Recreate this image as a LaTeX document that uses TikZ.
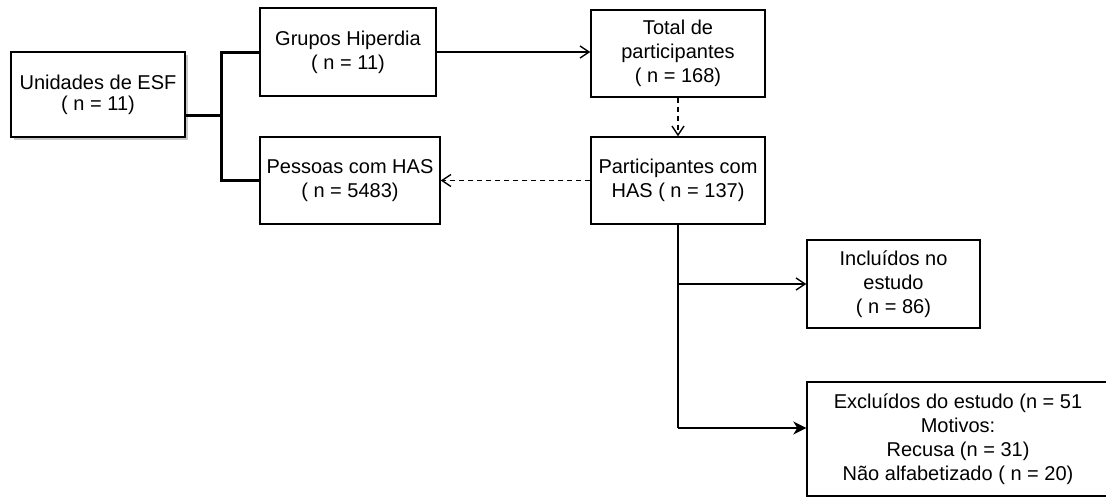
\documentclass[tikz,border=0pt]{standalone}
\usepackage{fontspec}
\setmainfont{Liberation Sans}
\usepackage{tikz}
\usetikzlibrary{arrows.meta, shadows}

\tikzset{
  every box/.style={draw, line width=0.7pt, align=center, inner sep=0pt,
    font=\fontsize{10}{12}\selectfont},
  thick link/.style={line width=1.5pt},
  thin link/.style={line width=0.7pt},
  open tip/.style={-{Straight Barb[length=4.5pt, width=6pt, line width=0.7pt]}},
  full tip/.style={-{Stealth[length=6.5pt, width=6.5pt, inset=2pt]}},
  dash link/.style={thin link, dash pattern=on 2.5pt off 2pt}
}

\begin{document}
\begin{tikzpicture}[x=0.5pt, y=-0.5pt]

\useasboundingbox (0,0) rectangle (1106,498);

\node [every box, minimum width=87pt, minimum height=42.5pt,
  font=\fontsize{10}{10.5}\selectfont,
  drop shadow={shadow xshift=1.5pt, shadow yshift=-1.5pt, fill=gray!60, opacity=0.7},
  fill=white] (unidades) at (98,94.5) {Unidades de ESF\\( n = 11)};

\node [every box, minimum width=88pt, minimum height=44pt] (grupos) at (348,52)
  {Grupos Hiperdia\\( n = 11)};
\node [every box, minimum width=90pt, minimum height=43.5pt] (pessoas) at (350,180.5)
  {Pessoas com HAS\\( n = 5483)};

\node [every box, minimum width=87pt, minimum height=43.5pt] (total) at (678,53.5)
  {Total de\\participantes\\( n = 168)};
\node [every box, minimum width=87pt, minimum height=43.5pt] (participantes) at (678,180.5)
  {Participantes com\\HAS ( n = 137)};

\node [every box, minimum width=86.5pt, minimum height=44pt] (incluidos) at (893.5,284)
  {Inclu\'idos no\\estudo\\( n = 86)};
\node [every box, minimum width=151pt, minimum height=57pt] (excluidos) at (958,439)
  {Exclu\'idos do estudo (n = 51\\Motivos:\\Recusa (n = 31)\\N\~ao alfabetizado ( n = 20)};

% bracket from the units
\coordinate (fork) at (221,115);
\draw [thick link] (unidades.east |- fork) -- (fork);
\draw [thick link] (grupos.west) -| (fork) |- (pessoas.west);

\draw [thin link, open tip] (grupos.east) -- (grupos.east -| total.west);
\draw [dash link, open tip] (total.south) -- (participantes.north);
\draw [dash link, open tip] (participantes.west) -- (pessoas.east);

% split towards the study
\coordinate (split) at (678,428);
\draw [thin link] (participantes.south) -- (split);
\draw [thin link, open tip] (participantes.south |- incluidos.west) -- (incluidos.west);
\draw [thin link, full tip] (split) -- (split -| excluidos.west);

\end{tikzpicture}
\end{document}
